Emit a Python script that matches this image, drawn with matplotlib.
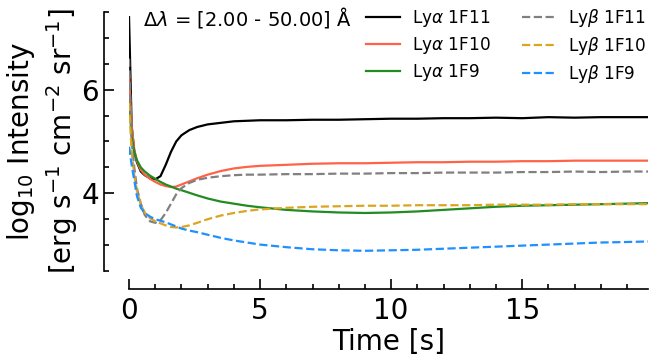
"""
Lyman line intensities vs time for the 1F9 / 1F10 / 1F11 runs
"""

# Libs
import matplotlib
matplotlib.use("Agg")
import matplotlib.pyplot as plt
from matplotlib.ticker import MultipleLocator

# ------------------ Data
time = [0.0, 0.1, 0.2, 0.3, 0.45, 0.6, 0.8, 1.0, 1.2, 1.4, 1.6, 1.8, 2.0, 2.3, 2.6, 3.0, 3.5,
        4.0, 4.5, 5.0, 6.0, 7.0, 8.0, 9.0, 10.0, 11.0, 12.0, 13.0, 14.0, 15.0, 16.0, 17.0,
        18.0, 19.0, 19.8]

lya_1f11 = [7.40, 5.30, 4.80, 4.60, 4.42, 4.35, 4.29, 4.27, 4.33, 4.55, 4.80, 5.00, 5.12, 5.22,
            5.28, 5.33, 5.36, 5.39, 5.40, 5.41, 5.41, 5.42, 5.42, 5.43, 5.44, 5.44, 5.45, 5.45,
            5.46, 5.45, 5.47, 5.46, 5.47, 5.47, 5.47]
lya_1f10 = [6.30, 5.30, 4.85, 4.62, 4.45, 4.36, 4.28, 4.22, 4.17, 4.14, 4.12, 4.13, 4.17, 4.23,
            4.29, 4.36, 4.43, 4.48, 4.51, 4.53, 4.55, 4.57, 4.58, 4.58, 4.59, 4.60, 4.60, 4.61,
            4.61, 4.62, 4.62, 4.63, 4.63, 4.63, 4.63]
lya_1f9 = [5.80, 5.10, 4.80, 4.64, 4.50, 4.42, 4.34, 4.28, 4.22, 4.17, 4.13, 4.09, 4.06, 4.01,
           3.96, 3.90, 3.84, 3.80, 3.76, 3.73, 3.68, 3.65, 3.63, 3.62, 3.63, 3.65, 3.68, 3.71,
           3.74, 3.76, 3.77, 3.78, 3.79, 3.80, 3.81]
lyb_1f11 = [6.60, 5.00, 4.50, 4.10, 3.80, 3.58, 3.46, 3.43, 3.48, 3.62, 3.80, 3.98, 4.10, 4.20,
            4.26, 4.30, 4.33, 4.35, 4.36, 4.36, 4.37, 4.37, 4.38, 4.38, 4.39, 4.39, 4.40, 4.40,
            4.40, 4.41, 4.41, 4.42, 4.41, 4.42, 4.42]
lyb_1f10 = [5.75, 4.80, 4.35, 4.05, 3.78, 3.63, 3.52, 3.46, 3.42, 3.38, 3.35, 3.34, 3.35, 3.38,
            3.43, 3.50, 3.57, 3.62, 3.66, 3.69, 3.72, 3.74, 3.75, 3.76, 3.76, 3.77, 3.77, 3.77,
            3.78, 3.78, 3.78, 3.79, 3.79, 3.79, 3.79]
lyb_1f9 = [4.90, 4.55, 4.25, 3.95, 3.72, 3.62, 3.55, 3.50, 3.47, 3.44, 3.40, 3.36, 3.32, 3.28,
           3.25, 3.20, 3.14, 3.09, 3.05, 3.01, 2.96, 2.92, 2.90, 2.89, 2.90, 2.91, 2.93, 2.95,
           2.97, 2.99, 3.01, 3.03, 3.05, 3.06, 3.07]

series = [
    (lya_1f11, r"Ly$\alpha$ 1F11", "black", "-"),
    (lya_1f10, r"Ly$\alpha$ 1F10", "tomato", "-"),
    (lya_1f9, r"Ly$\alpha$ 1F9", "forestgreen", "-"),
    (lyb_1f11, r"Ly$\beta$ 1F11", "grey", "--"),
    (lyb_1f10, r"Ly$\beta$ 1F10", "goldenrod", "--"),
    (lyb_1f9, r"Ly$\beta$ 1F9", "dodgerblue", "--"),
]

# ------------------ Figure
fig = plt.figure(figsize=(6.51, 3.6), dpi=100)
ax = fig.add_axes([0.1982, 0.2472, 0.7972, 0.7195])

for values, label, color, ls in series:
    ax.plot(time, values, color=color, linestyle=ls, linewidth=1.6, label=label)

ax.set_xlim(0, 19.8)
ax.set_ylim(2.5, 7.5)

ax.xaxis.set_major_locator(MultipleLocator(5))
ax.xaxis.set_minor_locator(MultipleLocator(1))
ax.yaxis.set_major_locator(MultipleLocator(2))
ax.yaxis.set_minor_locator(MultipleLocator(0.5))

ax.tick_params(which="both", direction="in", labelsize=20, width=1.2)
ax.tick_params(which="major", length=7.2)
ax.tick_params(which="minor", length=3.6)
ax.tick_params(axis="x", which="major", pad=6)

# --> offset spines, no box
ax.spines["right"].set_visible(False)
ax.spines["top"].set_visible(False)
ax.spines["left"].set_position(("outward", 18))
ax.spines["bottom"].set_position(("outward", 13))
ax.spines["left"].set_linewidth(1.2)
ax.spines["bottom"].set_linewidth(1.2)

ax.set_xlabel("Time [s]", fontsize=20, labelpad=2)
ax.set_ylabel("log$_{10}$ Intensity\n[erg s$^{-1}$ cm$^{-2}$ sr$^{-1}$]", fontsize=20,
              linespacing=1.25, labelpad=1)

ax.legend(ncol=2, frameon=False, fontsize=12.2, loc="upper left",
          bbox_to_anchor=(0.428, 1.077), handlelength=2.0, handletextpad=0.7,
          columnspacing=1.85, labelspacing=0.35)

fig.text(0.22, 0.95, r"$\Delta\lambda$ = [2.00 - 50.00] $\mathrm{\AA}$", fontsize=14,
         va="center", ha="left")

plt.savefig("out.png", dpi=100)
